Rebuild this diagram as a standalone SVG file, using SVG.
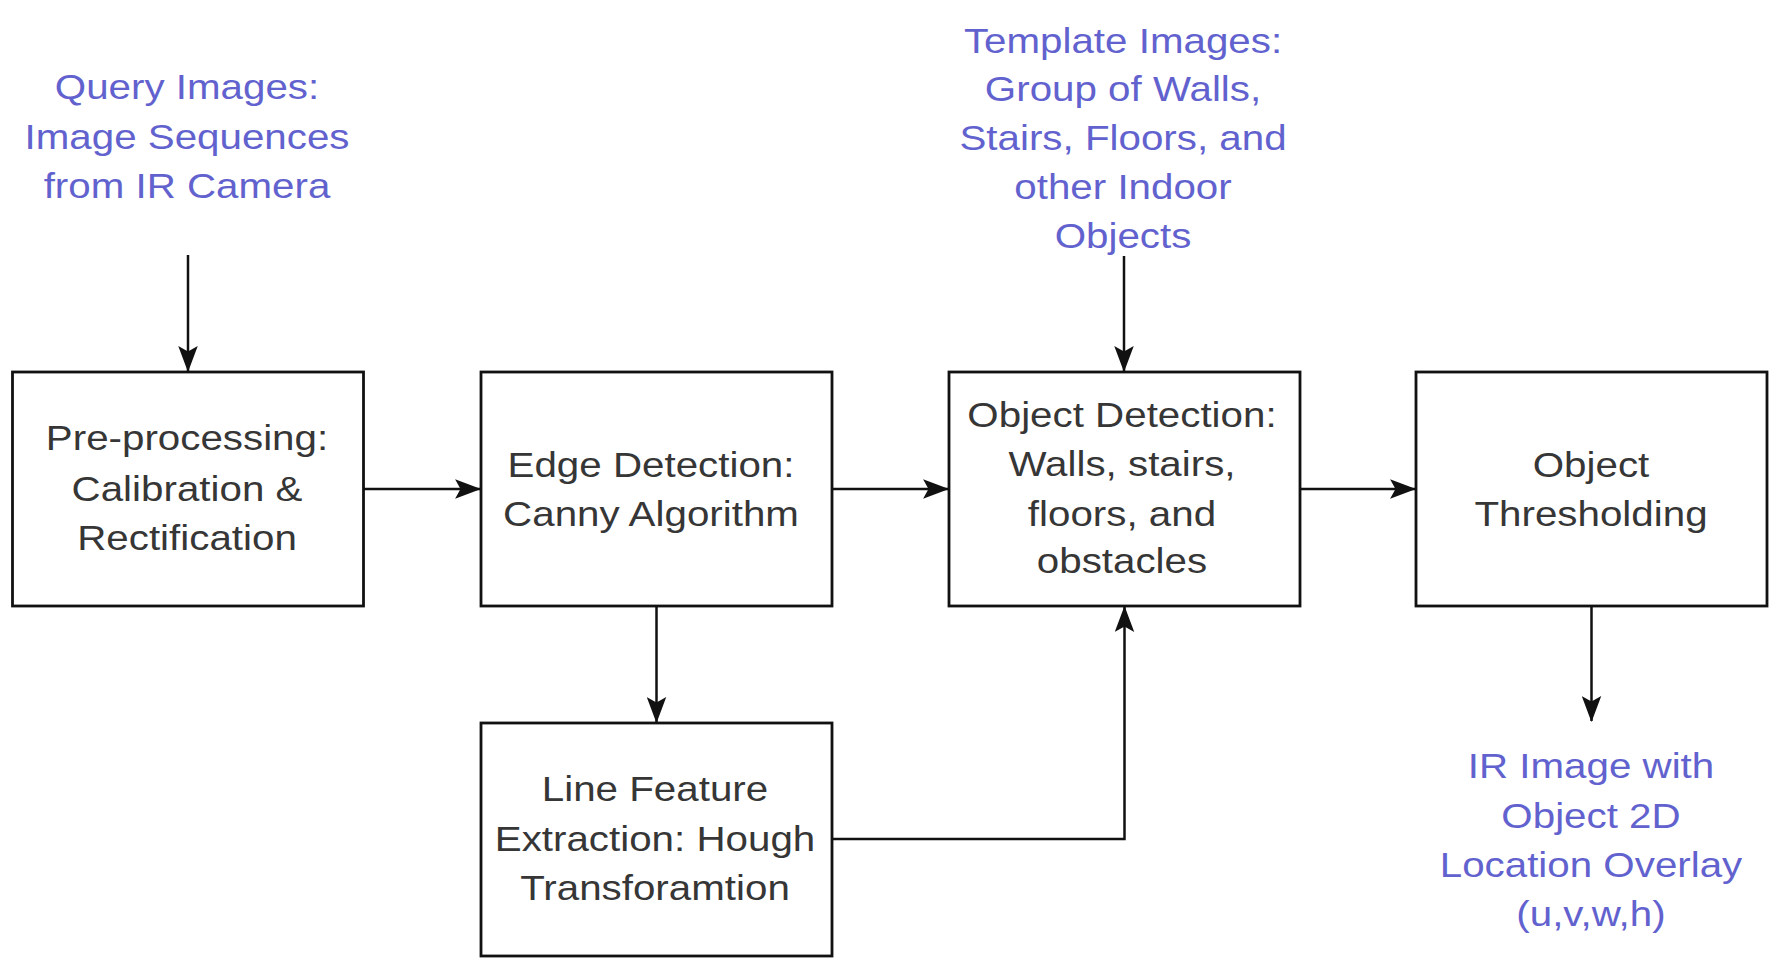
<svg xmlns="http://www.w3.org/2000/svg" width="1780" height="970" viewBox="0 0 1780 970">
<style>
.box{fill:#ffffff;stroke:#111111;stroke-width:2.8}
.t{font-family:"Liberation Sans",Arial,sans-serif;font-size:36px;fill:#363636;text-anchor:middle}
.b{fill:#6262cf}
.c{fill:none;stroke:#111111;stroke-width:2.5}
</style>
<defs>
<marker id="ah" markerUnits="userSpaceOnUse" markerWidth="26" markerHeight="20" viewBox="0 0 24 18" refX="23" refY="9" orient="auto">
<path d="M0,0 L24,9 L0,18 L5,9 z" fill="#111111"/>
</marker>
</defs>
<rect width="1780" height="970" fill="#ffffff"/>

<g id="connectors">
<line class="c" x1="188" y1="255" x2="188" y2="371" marker-end="url(#ah)"/>
<line class="c" x1="1124" y1="256" x2="1124" y2="371" marker-end="url(#ah)"/>
<line class="c" x1="363" y1="489" x2="480" y2="489" marker-end="url(#ah)"/>
<line class="c" x1="832" y1="489" x2="948" y2="489" marker-end="url(#ah)"/>
<line class="c" x1="1300" y1="489" x2="1415" y2="489" marker-end="url(#ah)"/>
<line class="c" x1="656.5" y1="606" x2="656.5" y2="722" marker-end="url(#ah)"/>
<polyline class="c" points="833,839 1124.5,839 1124.5,607" marker-end="url(#ah)"/>
<line class="c" x1="1591.5" y1="606" x2="1591.5" y2="721" marker-end="url(#ah)"/>
</g>

<g id="query-label">
<g transform="translate(187 0) scale(1.12 1)">
<text class="t b" x="0" y="99">Query Images:</text>
<text class="t b" x="0" y="149">Image Sequences</text>
<text class="t b" x="0" y="198">from IR Camera</text>
</g>
</g>

<g id="template-label">
<g transform="translate(1123 0) scale(1.12 1)">
<text class="t b" x="0" y="53">Template Images:</text>
<text class="t b" x="0" y="101">Group of Walls,</text>
<text class="t b" x="0" y="150">Stairs, Floors, and</text>
<text class="t b" x="0" y="199">other Indoor</text>
<text class="t b" x="0" y="248">Objects</text>
</g>
</g>

<g id="output-label">
<g transform="translate(1591 0) scale(1.12 1)">
<text class="t b" x="0" y="778">IR Image with</text>
<text class="t b" x="0" y="828">Object 2D</text>
<text class="t b" x="0" y="877">Location Overlay</text>
<text class="t b" x="0" y="926">(u,v,w,h)</text>
</g>
</g>

<g id="preprocessing">
<rect class="box" x="12.5" y="372" width="351" height="234"/>
<g transform="translate(187 0) scale(1.12 1)">
<text class="t" x="0" y="450">Pre-processing:</text>
<text class="t" x="0" y="501">Calibration &amp;</text>
<text class="t" x="0" y="550">Rectification</text>
</g>
</g>

<g id="edge-detection">
<rect class="box" x="481" y="372" width="351" height="234"/>
<g transform="translate(651 0) scale(1.12 1)">
<text class="t" x="0" y="477">Edge Detection:</text>
<text class="t" x="0" y="526">Canny Algorithm</text>
</g>
</g>

<g id="object-detection">
<rect class="box" x="949" y="372" width="351" height="234"/>
<g transform="translate(1122 0) scale(1.12 1)">
<text class="t" x="0" y="427">Object Detection:</text>
<text class="t" x="0" y="476">Walls, stairs,</text>
<text class="t" x="0" y="526">floors, and</text>
<text class="t" x="0" y="573">obstacles</text>
</g>
</g>

<g id="object-thresholding">
<rect class="box" x="1416" y="372" width="351" height="234"/>
<g transform="translate(1591 0) scale(1.12 1)">
<text class="t" x="0" y="477">Object</text>
<text class="t" x="0" y="526">Thresholding</text>
</g>
</g>

<g id="line-feature">
<rect class="box" x="481" y="723" width="351" height="233"/>
<g transform="translate(655 0) scale(1.12 1)">
<text class="t" x="0" y="801">Line Feature</text>
<text class="t" x="0" y="851">Extraction: Hough</text>
<text class="t" x="0" y="900">Transforamtion</text>
</g>
</g>
</svg>
